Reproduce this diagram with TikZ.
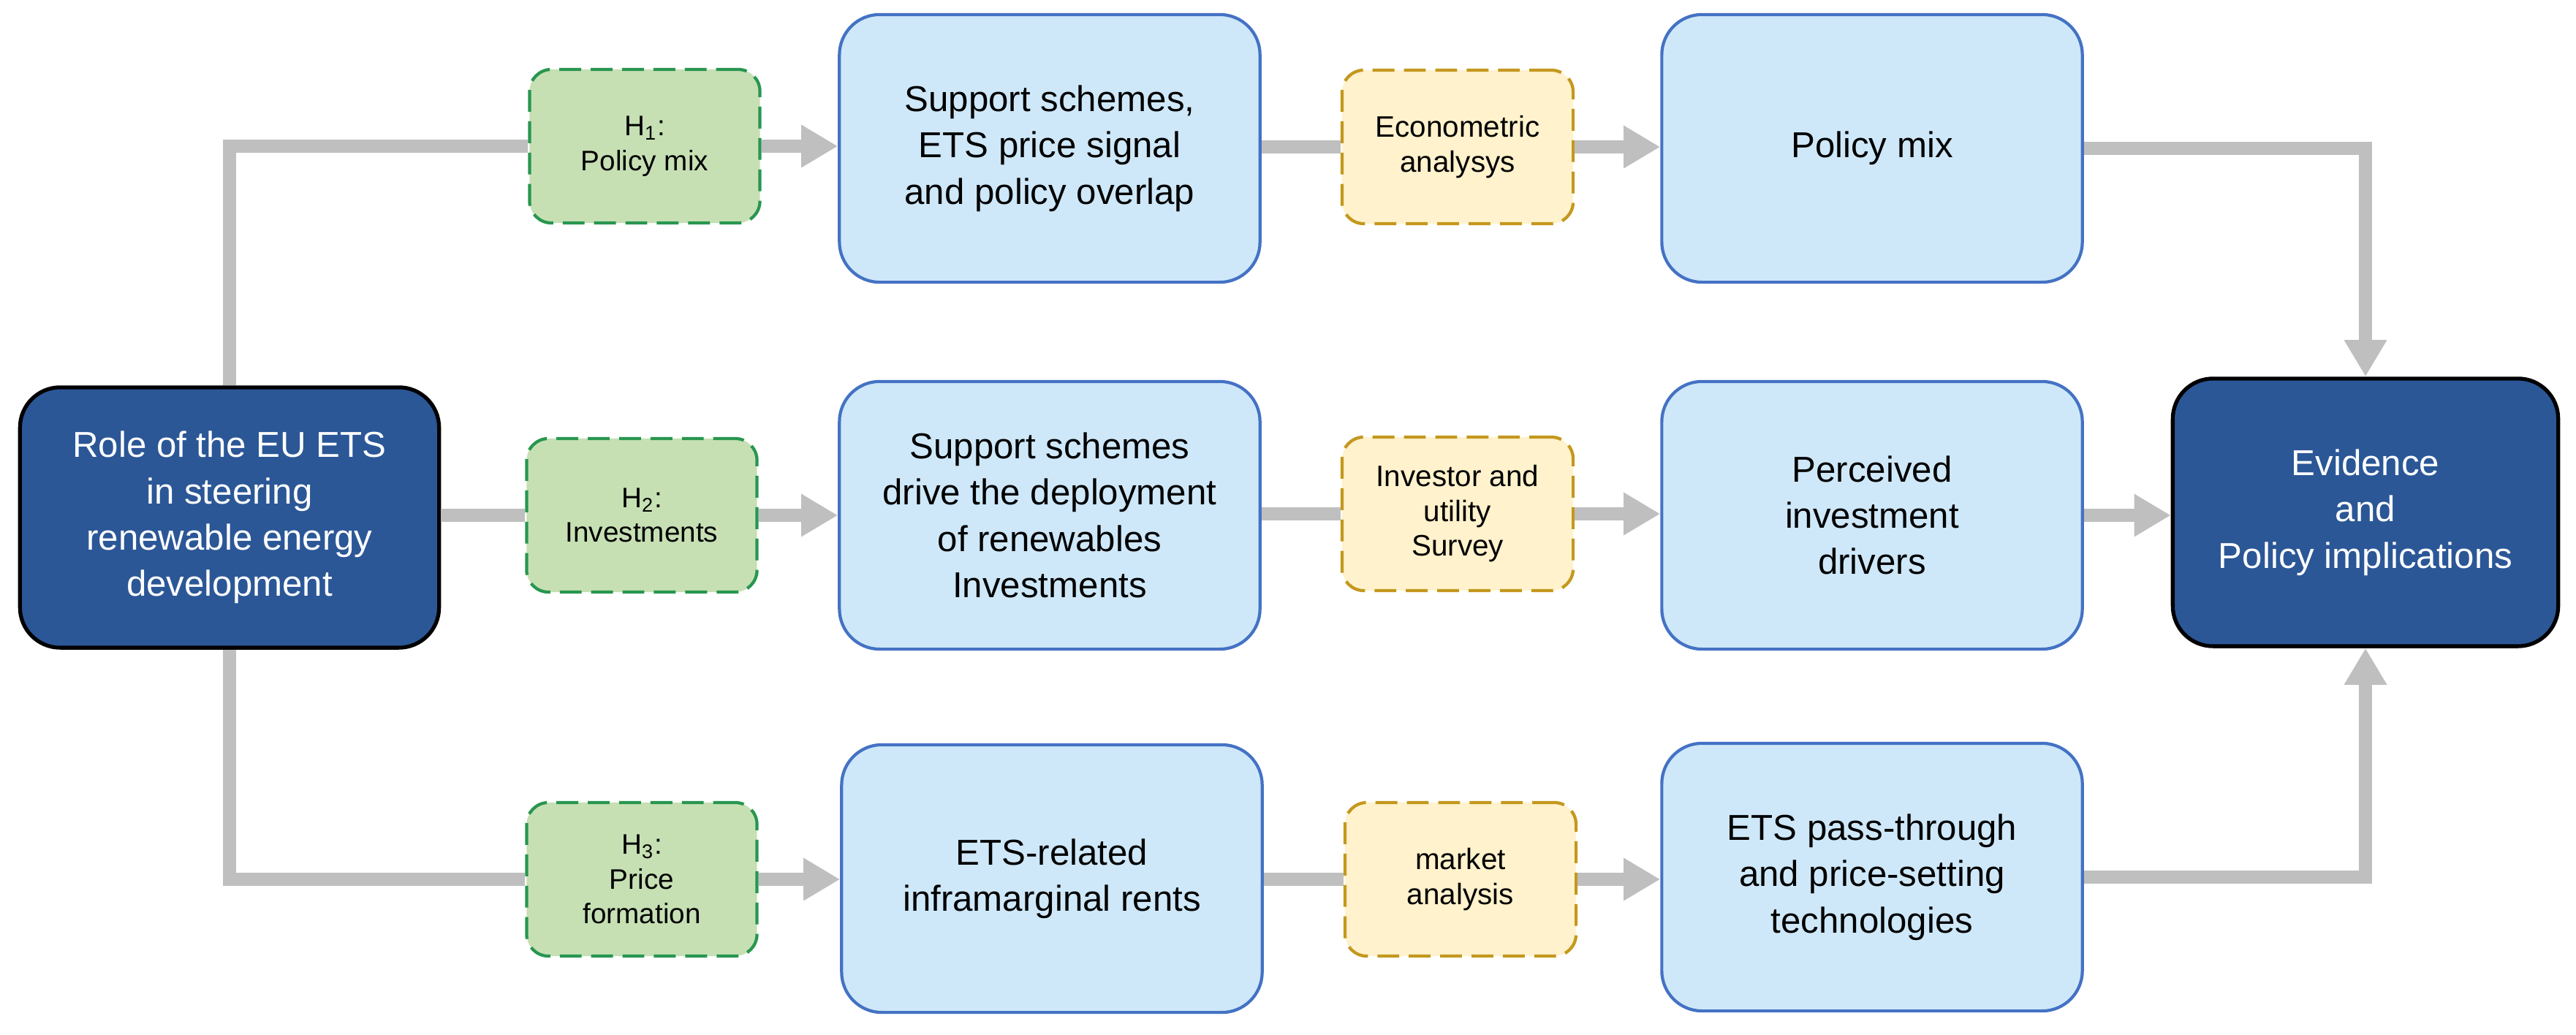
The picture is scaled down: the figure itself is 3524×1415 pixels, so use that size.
\documentclass[tikz,border=0pt]{standalone}
\usepackage{fontspec}
\setmainfont{Liberation Sans}
\usetikzlibrary{arrows.meta,positioning}
\definecolor{darkbox}{RGB}{43,87,151}
\definecolor{lightfill}{RGB}{206,232,249}
\definecolor{lightline}{RGB}{68,114,196}
\definecolor{greenfill}{RGB}{198,224,180}
\definecolor{greenline}{RGB}{40,150,80}
\definecolor{yellowfill}{RGB}{255,242,204}
\definecolor{yellowline}{RGB}{196,152,30}
\definecolor{conn}{RGB}{191,191,191}
\tikzset{
  darknode/.style={draw=black, line width=1.5pt, fill=darkbox, text=white, rounded corners=0.55cm,
    align=center, inner sep=0pt, font=\fontsize{14}{18}\selectfont},
  bluenode/.style={draw=lightline, line width=1.2pt, fill=lightfill, rounded corners=0.55cm,
    minimum width=5.75cm, minimum height=3.66cm, align=center, inner sep=0pt,
    font=\fontsize{14}{18}\selectfont},
  hypnode/.style={draw=greenline, line width=1.2pt, dash pattern=on 8.5pt off 3.7pt, fill=greenfill,
    rounded corners=0.3cm, minimum width=3.15cm, minimum height=2.10cm, align=center, inner sep=0pt,
    font=\fontsize{11}{13.5}\selectfont},
  methnode/.style={draw=yellowline, line width=1.2pt, dash pattern=on 8.5pt off 3.7pt, fill=yellowfill,
    rounded corners=0.3cm, minimum width=3.16cm, minimum height=2.10cm, align=center, inner sep=0pt,
    font=\fontsize{11.5}{13.5}\selectfont},
  link/.style={draw=conn, line width=5pt, line join=miter},
  arr/.style={link, -{Triangle[length=0.5cm,width=0.55cm]}}
}
\begin{document}
\begin{tikzpicture}[x=0.01cm,y=-0.01cm]
\useasboundingbox (0,0) rectangle (3524,1415);
% left and right main boxes
\node[darknode, minimum width=5.73cm, minimum height=3.56cm] (src) at (314,708)
  {Role of the EU ETS\\in steering\\renewable energy\\development};
\node[darknode, minimum width=5.27cm, minimum height=3.66cm] (dst) at (3236,701)
  {Evidence\\and\\Policy implications};
% hypotheses
\node[hypnode] (h1) at (882,200) {H\textsubscript{1}:\\Policy mix};
\node[hypnode] (h2) at (878,705) {H\textsubscript{2}:\\Investments};
\node[hypnode] (h3) at (878,1203) {H\textsubscript{3}:\\Price\\formation};
% first column of blue boxes
\node[bluenode] (b11) at (1436,203) {Support schemes,\\ETS price signal\\and policy overlap};
\node[bluenode] (b21) at (1436,705) {Support schemes\\drive the deployment\\of renewables\\Investments};
\node[bluenode] (b31) at (1439,1202) {ETS-related\\inframarginal rents};
% methods
\node[methnode] (m1) at (1994,201) {Econometric\\analysys};
\node[methnode] (m2) at (1994,703) {Investor and\\utility\\Survey};
\node[methnode] (m3) at (1998,1203) {market\\analysis};
% second column of blue boxes
\node[bluenode] (b12) at (2561,203) {Policy mix};
\node[bluenode] (b22) at (2561,705) {Perceived\\investment\\drivers};
\node[bluenode] (b32) at (2561,1200) {ETS pass-through\\and price-setting\\technologies};
% connectors
\draw[link] (src.north) -- (src.north |- h1.west) -- (h1.west);
\draw[link] (src.east |- h2.west) -- (h2.west);
\draw[link] (src.south) -- (src.south |- h3.west) -- (h3.west);
\draw[arr] (h1.east) -- (h1.east -| b11.west);
\draw[arr] (h2.east) -- (h2.east -| b21.west);
\draw[arr] (h3.east) -- (h3.east -| b31.west);
\draw[link] (b11.east |- m1.west) -- (m1.west);
\draw[link] (b21.east |- m2.west) -- (m2.west);
\draw[link] (b31.east |- m3.west) -- (m3.west);
\draw[arr] (m1.east) -- (m1.east -| b12.west);
\draw[arr] (m2.east) -- (m2.east -| b22.west);
\draw[arr] (m3.east) -- (m3.east -| b32.west);
\draw[arr] (b12.east) -- (b12.east -| dst.north) -- (dst.north);
\draw[arr] (b22.east) -- (b22.east -| dst.west);
\draw[arr] (b32.east) -- (b32.east -| dst.south) -- (dst.south);
\end{tikzpicture}
\end{document}
